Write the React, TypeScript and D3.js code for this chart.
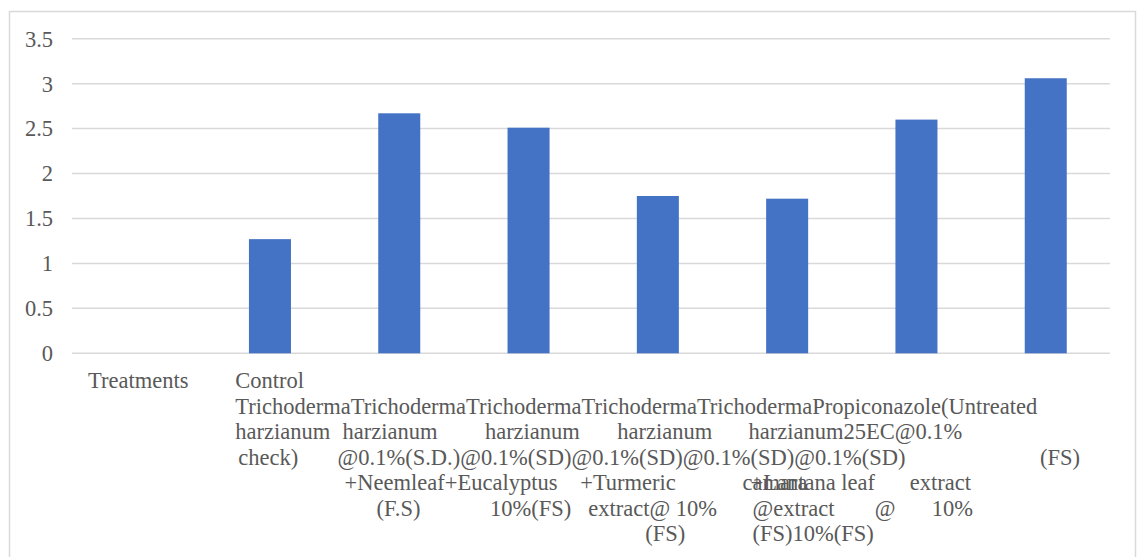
import React, { useRef, useEffect } from 'react';
import * as d3 from 'd3';

// bar categories and values
const categories = [
  'Treatments',
  'Control (Untreated check)',
  'Trichoderma harzianum @0.1%(S.D.) +Neemleaf (F.S)',
  'Trichoderma harzianum @0.1%(SD) +Eucalyptus 10%(FS)',
  'Trichoderma harzianum @0.1%(SD) +Turmeric extract@ 10% (FS)',
  'Trichoderma harzianum @0.1%(SD) +Lantana camara leaf extract @10%(FS)',
  'Trichoderma harzianum @0.1%(SD) extract @ 10%(FS)',
  'Propiconazole 25EC@0.1% (FS)',
];
const values = [0, 1.27, 2.67, 2.51, 1.75, 1.72, 2.6, 3.06];
const yTicks = [0, 0.5, 1, 1.5, 2, 2.5, 3, 3.5];

// the axis text as it is laid out in the original: [line, category, text]
const labelRuns: [number, number, string][] = [
  [0, 0, 'Treatments'],
  [0, 1, 'Control'],
  [1, 1, 'TrichodermaTrichodermaTrichodermaTrichodermaTrichodermaPropiconazole(Untreated'],
  [2, 1, 'harzianum'],
  [2, 2, 'harzianum'],
  [2, 3, 'harzianum'],
  [2, 4, 'harzianum'],
  [2, 5, 'harzianum25EC@0.1%'],
  [3, 1, 'check)'],
  [3, 2, '@0.1%(S.D.)@0.1%(SD)@0.1%(SD)@0.1%(SD)@0.1%(SD)'],
  [3, 7, '(FS)'],
  [4, 2, '+Neemleaf+Eucalyptus'],
  [4, 4, '+Turmeric'],
  [4, 5, 'camara'],
  [4, 5, '+Lantana leaf'],
  [4, 6, 'extract'],
  [5, 2, '(F.S)'],
  [5, 3, '10%(FS)'],
  [5, 4, 'extract@ 10%'],
  [5, 5, '@extract'],
  [5, 6, '@'],
  [5, 6, '10%'],
  [6, 4, '(FS)'],
  [6, 5, '(FS)10%(FS)'],
];
// horizontal offset of each run from the start of its category band
const runOffsets = [12, 30, 30, 30, 8, 21, 24, 26, 33, 3, 59, 10, -13, 20, 28, 58, 42, 26, -5, 30, 23, 80, 52, 30];

const W = 1138;
const H = 557;
const FONT = '"Liberation Serif", "Times New Roman", Times, serif';

const App: React.FC = () => {
  const svgRef = useRef<SVGSVGElement | null>(null);

  useEffect(() => {
    const svg = d3.select(svgRef.current);
    svg.selectAll('*').remove();

    const x = d3.scaleBand<string>()
      .domain(categories)
      .range([76, 1110.4])
      .paddingInner(0.675)
      .paddingOuter(0.3375);

    const y = d3.scaleLinear().domain([0, 3.5]).range([353.3, 38.7]);
    const step = x.step();
    const bandStart = (i: number) => x(categories[i])! + x.bandwidth() / 2 - step / 2;

    // chart border
    svg.append('rect')
      .attr('x', 9.5).attr('y', 11.5)
      .attr('width', 1126).attr('height', 580)
      .attr('fill', '#fff')
      .attr('stroke', '#d9d9d9')
      .attr('stroke-width', 1.5);

    // gridlines
    svg.append('g')
      .selectAll('line')
      .data(yTicks)
      .enter()
      .append('line')
      .attr('x1', 72).attr('x2', 1110)
      .attr('y1', d => y(d)).attr('y2', d => y(d))
      .attr('stroke', '#d9d9d9')
      .attr('stroke-width', 1.5);

    // y tick labels
    svg.append('g')
      .selectAll('text')
      .data(yTicks)
      .enter()
      .append('text')
      .attr('x', 53)
      .attr('y', d => y(d))
      .attr('dy', '0.35em')
      .attr('text-anchor', 'end')
      .attr('fill', '#595959')
      .attr('font-family', FONT)
      .attr('font-size', 22.5)
      .text(d => String(d));

    // bars
    svg.append('g')
      .selectAll('rect')
      .data(values)
      .enter()
      .append('rect')
      .attr('x', (d, i) => x(categories[i])!)
      .attr('y', d => y(d))
      .attr('width', x.bandwidth())
      .attr('height', d => y(0) - y(d))
      .attr('fill', '#4472c4');

    // category labels
    svg.append('g')
      .selectAll('text')
      .data(labelRuns)
      .enter()
      .append('text')
      .attr('x', (d, i) => bandStart(d[1]) + runOffsets[i])
      .attr('y', d => 388 + d[0] * 25.5)
      .attr('fill', '#595959')
      .attr('font-family', FONT)
      .attr('font-size', 22.5)
      .style('white-space', 'pre')
      .text(d => d[2]);
  }, []);

  return (
    <svg
      ref={svgRef}
      width={W}
      height={H}
      style={{ position: 'absolute', left: 0, top: 0, display: 'block', background: '#fff' }}
    />
  );
};

export default App;
